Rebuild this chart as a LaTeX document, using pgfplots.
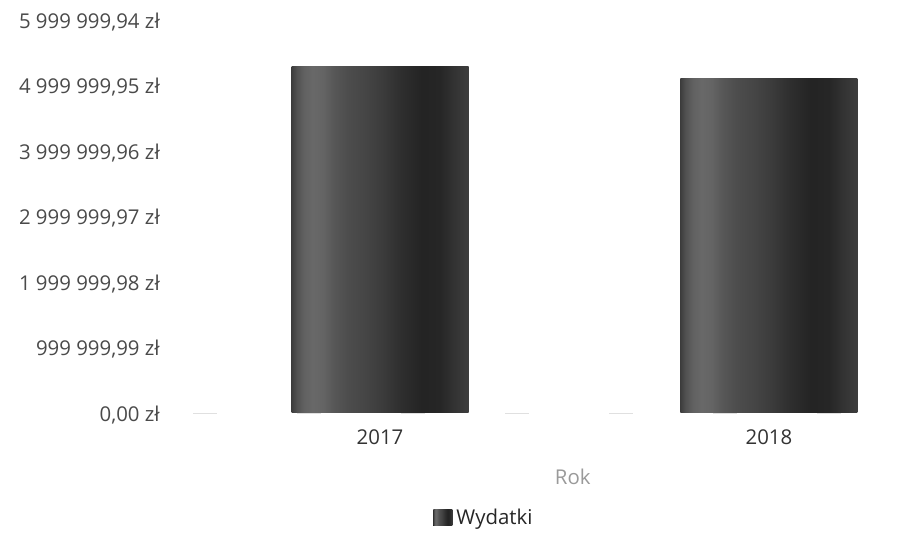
\documentclass[border=0pt]{standalone}
\usepackage{fontspec}
\setmainfont{Open Sans}
\usepackage{pgfplots}
\pgfplotsset{compat=1.18}

\definecolor{ticktext}{HTML}{4A4A4A}
\definecolor{cattext}{HTML}{333333}
\definecolor{titletext}{HTML}{9A9A9A}

% vertical stripes of the bars: light band on the left, dark band right of centre
\pgfdeclarehorizontalshading{barshade}{100bp}{%
  color(0bp)=(black!76);
  color(25bp)=(black!76);
  color(26.5bp)=(black!68);
  color(28.5bp)=(black!62);
  color(31bp)=(black!59);
  color(34bp)=(black!61);
  color(37bp)=(black!66);
  color(41bp)=(black!70);
  color(46bp)=(black!73);
  color(51bp)=(black!77);
  color(56bp)=(black!82);
  color(62bp)=(black!86);
  color(67bp)=(black!85);
  color(71bp)=(black!80);
  color(75bp)=(black!76);
  color(100bp)=(black!76)}

\pgfplotstableread{
x  y
0  5296000
}\wydatkiA
\pgfplotstableread{
x  y
1  5112000
}\wydatkiB

\begin{document}
\fontsize{10.2}{12}\selectfont
\begin{tikzpicture}
  \begin{axis}[
    scale only axis,
    width=351pt, height=196.5pt,
    at={(0,0)}, anchor=south west,
    xmin=-0.481, xmax=1.324,
    ymin=0, ymax=5999999.94,
    scaled y ticks=false,
    axis x line=bottom, axis y line=left,
    x axis line style={draw=black!12, dashed, dash pattern=on 12pt off 40pt, -},
    y axis line style={draw=none, -},
    major tick length=0pt,
    xtick={0,1}, xticklabels={2017,2018},
    xticklabel style={anchor=center, yshift=-12pt, text=cattext},
    ytick={0,999999.99,1999999.98,2999999.97,3999999.96,4999999.95,5999999.94},
    yticklabels={{0,00 zł},{999 999,99 zł},{1 999 999,98 zł},{2 999 999,97 zł},
                 {3 999 999,96 zł},{4 999 999,95 zł},{5 999 999,94 zł}},
    yticklabel style={anchor=east, xshift=-13pt, yshift=-1pt, text=ticktext},
    xlabel={Rok},
    xlabel style={at={(axis description cs:0.541,0)}, anchor=center,
                  yshift=-32pt, text=titletext},
    legend style={draw=none, fill=none, inner sep=0pt,
                  at={(axis description cs:0.342,0)}, anchor=west,
                  yshift=-52.5pt, font=\color{black!85}},
    legend image code/.code={%
      \fill[shading=barshade] (0pt,-4pt) rectangle (9.5pt,4pt);},
  ]
    \addplot[ybar, bar shift=0pt, bar width=88.5pt, draw=none, shading=barshade]
      table[x=x, y=y] {\wydatkiA};
    \addlegendentry{Wydatki}
    \addplot[ybar, bar shift=0pt, bar width=88.5pt, draw=none, shading=barshade,
      forget plot]
      table[x=x, y=y] {\wydatkiB};
  \end{axis}
  \pgfresetboundingbox
  \path (-96.5pt,-60.5pt) rectangle (354pt,206.5pt);
\end{tikzpicture}
\end{document}
